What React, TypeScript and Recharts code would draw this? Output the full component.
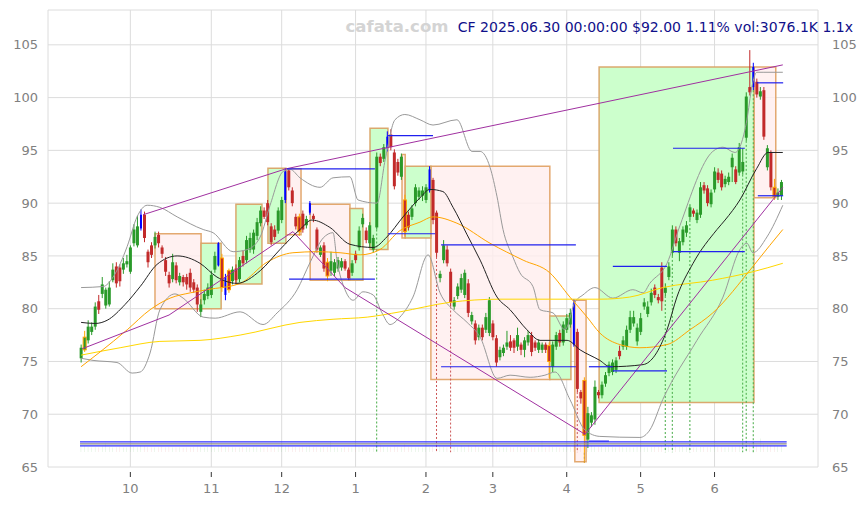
import React from "react";
import {
  ComposedChart,
  Bar,
  Line,
  XAxis,
  YAxis,
  CartesianGrid,
  ReferenceArea,
  ReferenceLine,
  Cell,
} from "recharts";

// daily candles, Sep 11 2024 .. Jun 30 2025 (index = trading day)
const opens = [
  75.3, 76.1, 77.0, 77.8, 78.3, 80.7, 81.4, 80.3, 80.4, 82.7, 84.0, 83.9, 83.7, 84.2, 83.5, 86.2, 86.0, 87.6, 88.9, 85.4,
  86.0, 86.0, 87.0, 85.8, 84.6, 83.2, 82.8, 84.1, 82.5, 83.0, 83.0, 83.4, 82.5, 82.0, 79.7, 80.8, 81.2, 81.3, 83.7, 84.1,
  84.8, 81.3, 83.6, 82.6, 83.8, 82.8, 85.0, 84.6, 85.6, 85.6, 86.9, 88.1, 89.3, 90.0, 87.8, 87.5, 87.4, 88.4, 90.3, 93.1,
  91.2, 88.7, 88.7, 89.0, 87.9, 89.1, 88.8, 87.5, 85.1, 86.0, 84.4, 83.6, 83.4, 83.8, 83.9, 84.5, 83.7, 83.4, 85.2, 85.8,
  88.0, 87.4, 86.2, 85.6, 87.7, 94.4, 94.2, 95.2, 96.5, 94.8, 93.9, 92.5, 90.3, 88.9, 88.7, 90.0, 90.6, 90.7, 90.3, 91.2,
  92.2, 89.1, 82.9, 84.6, 85.6, 83.5, 80.2, 81.2, 81.8, 81.3, 82.4, 78.8, 78.6, 77.3, 78.2, 78.0, 77.7, 78.6, 77.2, 75.4,
  75.8, 76.4, 76.9, 77.0, 76.4, 76.6, 76.1, 76.8, 77.5, 76.8, 76.1, 76.1, 76.6, 76.5, 74.5, 76.4, 77.7, 76.8, 78.0, 78.5,
  80.5, 77.8, 72.1, 73.2, 67.6, 69.2, 69.5, 72.1, 71.8, 72.9, 73.9, 74.0, 74.2, 76.0, 76.4, 76.4, 78.0, 78.6, 76.9, 77.8,
  80.2, 79.5, 80.6, 82.0, 81.1, 83.9, 81.5, 83.0, 85.3, 87.5, 85.3, 86.3, 87.2, 88.7, 89.3, 88.4, 88.9, 91.7, 91.4, 89.9,
  91.3, 92.9, 92.8, 91.8, 92.0, 93.4, 93.2, 92.9, 93.0, 96.2, 101.0, 101.0, 101.5, 100.1, 100.7, 93.4, 94.8, 91.5, 90.6, 90.7,
];
const highs = [
  76.6, 77.9, 78.9, 78.7, 80.6, 81.3, 83.0, 82.0, 82.6, 84.3, 84.4, 84.2, 84.8, 85.1, 86.0, 88.0, 88.8, 89.4, 89.2, 85.6,
  86.3, 87.3, 87.3, 86.0, 84.9, 83.5, 85.2, 84.4, 83.4, 83.2, 83.3, 83.8, 82.8, 82.3, 80.9, 81.8, 82.4, 83.6, 85.4, 86.3,
  85.2, 83.3, 83.8, 84.0, 84.2, 84.9, 85.5, 86.9, 87.2, 87.5, 88.6, 89.7, 89.6, 90.3, 88.1, 87.9, 89.6, 90.6, 93.3, 93.3,
  91.5, 89.0, 89.0, 89.3, 88.8, 90.2, 89.0, 87.7, 86.0, 86.3, 84.8, 85.4, 84.7, 84.9, 84.8, 84.7, 83.9, 84.6, 85.5, 87.8,
  89.0, 87.7, 88.2, 87.0, 94.8, 94.7, 95.6, 96.8, 97.0, 95.1, 94.2, 94.7, 90.8, 89.2, 89.8, 91.8, 91.5, 91.6, 91.8, 93.5,
  92.4, 89.3, 83.6, 86.5, 86.0, 83.8, 81.1, 82.4, 83.3, 83.7, 82.8, 79.7, 78.9, 78.5, 78.5, 79.6, 81.1, 78.9, 77.5, 76.4,
  76.6, 77.9, 77.5, 77.2, 78.2, 76.8, 77.3, 77.9, 77.8, 77.0, 77.1, 76.8, 76.8, 76.8, 76.9, 77.8, 78.0, 78.8, 79.5, 80.0,
  80.9, 78.1, 72.3, 73.5, 70.7, 70.2, 73.2, 72.3, 73.1, 74.0, 75.0, 75.2, 75.4, 76.5, 77.4, 78.4, 79.8, 79.8, 78.6, 79.6,
  81.0, 80.7, 81.9, 82.3, 81.4, 84.4, 82.4, 84.4, 87.9, 87.8, 86.7, 87.8, 88.3, 89.9, 89.5, 89.4, 92.0, 92.0, 91.7, 91.3,
  93.4, 93.3, 93.1, 92.6, 92.9, 94.7, 93.5, 95.7, 95.2, 100.5, 104.5, 103.3, 101.8, 101.0, 101.0, 95.5, 95.0, 92.3, 91.4, 92.2,
];
const lows = [
  74.9, 75.9, 76.7, 77.5, 78.0, 79.5, 81.0, 80.0, 80.2, 82.5, 82.0, 82.1, 83.3, 83.9, 83.3, 85.9, 85.8, 87.4, 86.3, 83.9,
  84.8, 85.7, 85.8, 84.8, 83.1, 82.0, 82.5, 82.4, 82.2, 82.1, 81.8, 81.6, 81.5, 79.7, 79.2, 80.4, 80.9, 81.0, 83.4, 84.0,
  81.6, 80.8, 81.5, 82.3, 82.4, 82.5, 84.0, 84.3, 85.3, 85.2, 86.5, 87.8, 88.5, 87.9, 86.0, 86.5, 87.1, 88.1, 90.0, 91.2,
  89.7, 87.5, 86.9, 87.2, 87.6, 88.9, 88.2, 85.3, 84.9, 83.5, 82.6, 83.1, 83.1, 83.5, 83.6, 83.6, 82.7, 83.1, 84.3, 85.5,
  87.7, 86.2, 85.8, 85.3, 87.5, 93.5, 93.9, 94.9, 95.0, 91.3, 92.6, 92.2, 86.9, 87.4, 88.4, 89.7, 90.3, 90.2, 90.0, 91.0,
  88.0, 84.9, 82.5, 84.3, 84.0, 80.2, 79.9, 80.9, 81.5, 81.0, 79.2, 78.5, 76.6, 77.0, 77.0, 77.7, 77.4, 77.0, 74.5, 75.1,
  75.5, 76.1, 76.0, 75.8, 76.0, 75.6, 75.4, 76.5, 75.5, 76.0, 75.8, 75.8, 75.8, 73.4, 74.0, 76.1, 76.4, 76.5, 77.7, 78.2,
  76.4, 72.1, 71.0, 65.4, 66.8, 68.8, 69.0, 71.5, 71.5, 72.6, 73.6, 73.7, 73.9, 75.2, 76.1, 76.1, 77.7, 78.3, 76.5, 77.5,
  79.9, 79.2, 80.3, 81.0, 80.5, 79.8, 81.2, 82.7, 85.0, 85.9, 84.5, 86.0, 86.8, 88.4, 88.7, 88.1, 88.6, 90.9, 89.7, 89.6,
  91.0, 91.9, 91.2, 91.5, 91.7, 92.0, 91.8, 92.6, 92.7, 95.9, 100.2, 100.7, 100.0, 99.8, 96.0, 93.1, 91.2, 90.3, 90.3, 90.3,
];
const closes = [
  76.3, 77.3, 78.3, 78.3, 80.2, 79.9, 82.3, 81.8, 82.0, 83.7, 82.4, 82.6, 84.3, 84.5, 85.8, 87.5, 87.8, 88.9, 86.7, 84.4,
  85.1, 86.8, 86.2, 85.2, 83.5, 82.4, 84.4, 82.7, 83.1, 82.5, 82.3, 82.0, 81.8, 80.4, 80.4, 81.4, 82.0, 83.2, 85.0, 86.2,
  82.0, 83.0, 81.8, 83.7, 82.7, 84.6, 84.3, 86.5, 86.7, 87.2, 88.2, 89.3, 88.7, 88.2, 86.3, 86.8, 89.3, 90.3, 93.0, 91.5,
  90.0, 87.8, 87.3, 87.5, 88.5, 90.0, 88.5, 85.6, 85.8, 83.8, 83.1, 84.5, 84.4, 84.6, 84.5, 83.8, 82.9, 84.3, 84.6, 87.4,
  88.6, 86.5, 87.9, 86.7, 94.4, 93.8, 95.3, 96.3, 95.3, 91.6, 92.9, 94.4, 87.3, 87.7, 89.5, 91.5, 91.2, 91.2, 91.5, 93.2,
  88.4, 85.3, 83.3, 86.0, 84.3, 80.6, 80.8, 82.1, 82.9, 83.4, 79.6, 79.4, 77.0, 78.2, 77.3, 79.2, 80.8, 77.3, 74.9, 76.1,
  76.3, 76.8, 76.3, 76.3, 77.5, 76.1, 77.0, 77.5, 75.9, 76.3, 76.8, 76.6, 76.1, 75.0, 76.6, 77.5, 76.8, 78.5, 79.1, 79.6,
  76.6, 72.4, 71.5, 68.0, 70.1, 69.9, 72.6, 71.8, 72.8, 73.7, 74.7, 74.9, 75.1, 75.5, 77.0, 78.0, 79.2, 79.2, 78.2, 79.1,
  80.6, 80.2, 81.5, 81.3, 80.8, 80.7, 82.0, 84.0, 87.5, 86.2, 86.4, 87.5, 87.9, 89.6, 89.0, 89.1, 91.5, 91.2, 90.0, 91.0,
  93.0, 92.2, 91.5, 92.3, 92.5, 94.3, 92.0, 95.3, 93.9, 100.1, 100.5, 102.9, 100.3, 100.6, 96.3, 95.2, 91.5, 90.6, 91.0, 92.0,
];
// volume, thousands of shares
const volumes = [
  2600, 3100, 2500, 2200, 2400, 2300, 2700, 4600, 2500, 2300, 2400, 2600, 2200, 2300, 2500, 2800, 2400, 3200, 2900, 2500,
  2300, 2200, 2400, 2600, 2300, 2500, 2200, 2300, 2400, 2100, 2300, 2200, 2500, 2700, 2400, 2300, 2600, 2400, 2300, 3600,
  3100, 2700, 2600, 2400, 2300, 2200, 2500, 2400, 2300, 2600, 2400, 2300, 2200, 2500, 2400, 2300, 2700, 2600, 2900, 3100,
  2600, 2500, 2400, 2800, 2600, 3000, 2500, 2400, 2300, 2600, 2500, 5400, 2200, 2300, 2000, 2400, 2300, 2200, 2300, 2600,
  2400, 2500, 2300, 2200, 3600, 3800, 2600, 2500, 2400, 2700, 2500, 2400, 4000, 2600, 2400, 2300, 2200, 2300, 2400, 2500,
  2600, 5000, 3200, 2600, 2400, 5000, 2600, 2400, 3300, 2500, 3400, 2500, 3000, 2400, 2300, 2500, 2300, 2600, 3100, 2400,
  2300, 2200, 2400, 2300, 2500, 2200, 2300, 2100, 2400, 2300, 2400, 5800, 2300, 3200, 2500, 2400, 2300, 2200, 2500, 2400,
  4000, 4800, 3900, 5200, 4500, 3100, 2800, 2600, 2500, 2400, 2600, 2500, 2300, 2600, 2400, 2300, 2400, 2300, 2500, 2400,
  2300, 2200, 2400, 2600, 2500, 3300, 2500, 2600, 3400, 2800, 2600, 2500, 2400, 2600, 2300, 2200, 2600, 2500, 2400, 2300,
  2500, 2600, 2400, 2300, 2400, 2800, 2600, 3000, 2700, 3600, 4100, 4500, 3600, 6700, 3900, 3400, 3200, 3000, 2900, 3076,
];
const blueBars = [17, 39, 41, 58, 65, 87, 99, 140, 191];
const orangeBars = [1, 40, 42, 62, 70, 92, 133, 143, 197];

const monthTicks = [14, 37, 57, 78, 98, 117, 138, 159, 180];
const monthLabels = ["10", "11", "12", "1", "2", "3", "4", "5", "6"];
const priceTicks = [65, 70, 75, 80, 85, 90, 95, 100, 105];

// indicator curves, [index, price]
const maShort = [
  [0, 78.7], [4, 78.6], [7.4, 78.9], [12.5, 80.4], [16.8, 82.1], [21.6, 84.2], [27.3, 85.0], [33.8, 84.3],
  [38.6, 83.0], [44.3, 82.4], [50.9, 83.6], [56.5, 85.6], [62.2, 87.5], [65.6, 88.4], [70.7, 87.7], [76.4, 86.1],
  [83.0, 85.8], [86.9, 86.8], [91.5, 88.7], [96.3, 90.5], [99.1, 91.3], [102.8, 91.1], [105.7, 89.6], [109.7, 87.0],
  [113.4, 84.6], [118.2, 81.1], [121.9, 79.9], [126.7, 78.0], [130.4, 77.0], [138.1, 77.0], [141.8, 76.1], [147.4, 75.1],
  [150.3, 74.5], [159.7, 74.7], [166.5, 78.0], [169.3, 81.1], [173.9, 84.3], [180.7, 87.5], [183.0, 88.4], [187.2, 90.3],
  [192.0, 93.3], [195.2, 94.8], [199.4, 94.8],
];
const maMid = [
  [0, 74.5], [5.4, 75.9], [13.1, 78.0], [19.6, 79.9], [25.3, 81.0], [31.0, 81.5], [35.8, 81.8], [45.2, 82.4],
  [52.8, 84.4], [60.2, 85.3], [67.0, 85.4], [73.6, 85.3], [79.3, 85.1], [84.9, 85.6], [90.6, 87.4], [96.3, 88.2],
  [100.0, 88.7], [106.8, 88.1], [116.2, 86.2], [125.6, 84.6], [133.2, 83.4], [138.9, 81.1], [143.8, 79.2], [147.4, 77.7],
  [153.1, 76.6], [158.8, 76.3], [166.5, 76.6], [173.0, 78.0], [179.5, 79.6], [190.9, 84.0], [195.7, 86.0], [199.4, 87.5],
];
const maLong = [
  [0, 75.6], [11.1, 76.3], [22.4, 76.9], [33.8, 77.0], [45.2, 77.5], [62.2, 78.7], [71.6, 79.0], [81.3, 79.2],
  [90.6, 79.7], [104.8, 80.6], [119.0, 80.9], [133.2, 80.9], [147.4, 80.9], [155.9, 81.1], [165.3, 82.0], [179.5, 82.7],
  [190.9, 83.5], [199.4, 84.3],
];
const bandUpper = [
  [0, 82.0], [6.3, 82.1], [9.1, 83.0], [13.1, 85.9], [15.9, 88.7], [18.8, 89.8], [22.4, 89.6], [27.3, 88.7],
  [34.7, 87.5], [37.5, 87.2], [43.2, 85.4], [47.2, 85.6], [50.9, 86.8], [53.7, 89.8], [57.4, 93.0], [59.4, 93.2],
  [62.2, 92.4], [67.9, 91.5], [71.6, 92.4], [76.4, 92.5], [78.7, 90.3], [84.1, 90.0], [86.4, 94.1], [89.2, 97.9],
  [92.0, 98.4], [96.3, 97.9], [100.0, 97.4], [106.8, 97.9], [111.1, 94.9], [113.4, 94.9], [116.2, 93.4], [118.2, 90.6],
  [119.9, 87.5], [122.7, 84.9], [124.7, 83.4], [128.4, 82.1], [130.4, 79.9], [134.1, 79.6], [137.5, 78.0], [140.3, 80.6],
  [142.6, 81.3], [146.0, 82.0], [151.1, 81.0], [156.8, 81.8], [159.7, 81.5], [161.6, 82.4], [166.5, 84.3], [170.2, 87.9],
  [179.5, 94.9], [182.4, 95.3], [185.8, 94.8], [189.2, 97.9], [190.6, 101.0], [192.0, 102.4], [193.8, 102.4], [199.4, 102.4],
];
const bandLower = [
  [0, 75.3], [3.4, 75.1], [10.2, 74.9], [14.5, 73.9], [16.8, 74.0], [19.6, 75.8], [22.4, 79.9], [26.7, 81.4],
  [29.0, 81.0], [34.7, 79.2], [38.1, 79.1], [45.2, 79.7], [51.7, 78.5], [55.7, 79.6], [61.4, 81.8], [65.1, 84.4],
  [68.8, 86.7], [71.6, 87.2], [72.7, 84.6], [75.0, 81.8], [77.3, 80.8], [80.1, 81.6], [83.0, 81.3], [85.5, 79.6],
  [87.8, 78.5], [90.6, 79.2], [94.3, 81.1], [98.6, 85.1], [102.0, 81.5], [105.7, 79.9], [109.7, 78.7], [113.4, 77.3],
  [118.2, 73.4], [121.9, 73.7], [127.6, 73.5], [131.8, 73.7], [134.7, 74.0], [138.9, 71.4], [143.2, 68.5], [147.4, 67.9],
  [158.8, 67.8], [161.6, 68.5], [165.3, 71.4], [175.0, 77.0], [182.4, 81.1], [187.2, 85.6], [189.2, 86.2], [190.9, 85.3],
  [194.9, 86.8], [199.4, 89.8],
];
const trendUpper = [[17.6, 88.9], [58.2, 93.25], [199.4, 103.1]];
const trendZigzag = [[0.3, 76.2], [25.0, 79.4], [60.2, 87.3], [75.0, 82.0], [143.2, 68.1], [199.4, 91.5]];

// boxes: [fromIndex, toIndex, low, high]
const greenBoxes = [
  [34.1, 39.8, 80.0, 86.2], [44.0, 51.4, 82.35, 89.9], [53.1, 58.2, 86.2, 93.3], [76.4, 80.1, 82.7, 89.5],
  [82.1, 87.2, 85.6, 97.1], [92.1, 99.4, 86.7, 93.5], [133.2, 139.2, 73.3, 79.3], [147.2, 191.2, 71.1, 102.9],
];
const pinkBoxes = [
  [21.0, 34.1, 80.0, 87.1], [58.2, 62.5, 87.0, 93.25], [65.1, 76.4, 82.7, 89.9], [91.2, 92.1, 86.7, 94.6],
  [99.4, 133.2, 73.3, 93.5], [140.3, 143.5, 65.5, 80.8], [191.2, 197.4, 90.5, 102.9],
];
// levels: [fromIndex, toIndex, price]
const levels = [
  [58.5, 83.5, 93.25], [59.1, 83.5, 82.8], [87.2, 100.0, 96.4], [87.2, 100.6, 87.1], [102.3, 140.6, 86.05],
  [102.3, 140.6, 74.5], [144.3, 151.1, 74.5], [151.1, 166.5, 74.1], [151.1, 166.5, 84.0], [168.2, 188.6, 85.4],
  [168.2, 188.6, 95.2], [192.0, 199.5, 101.4], [192.3, 199.5, 90.7], [144.3, 150.0, 67.45],
];
const baseBlue = [67.38, 67.0];
const baseGray = [67.19];
const greenMarks = [84, 166, 168, 173, 188, 189, 191];
const redMarks = [101, 105, 141];
const orangeMarks = [143];

const GREEN = "#2a9a2a";
const RED = "#c22a2a";
const BLUE = "#0000ff";
const ORANGE = "#ffa500";
const AXIS_TEXT = "#808080";

const rows = opens.map((o, i) => ({
  i,
  open: o,
  high: highs[i],
  low: lows[i],
  close: closes[i],
  range: [lows[i], highs[i]],
  vol: volumes[i],
}));

const pts = (arr: number[][]) => arr.map(([i, v]) => ({ i, v }));

function Candle(props: any) {
  const { x, y, width, height, payload } = props;
  if (!payload || height == null || isNaN(y)) return null;
  const { i, open, close, high, low } = payload;
  const cx = x + width / 2;
  const span = high - low || 1;
  const py = (v: number) => y + ((high - v) / span) * height;
  const isBlue = blueBars.includes(i);
  const isOrange = orangeBars.includes(i);
  const color = isBlue ? BLUE : close >= open ? GREEN : RED;
  const top = py(Math.max(open, close));
  const bot = py(Math.min(open, close));
  const bw = isBlue ? 2 : 3;
  return (
    <g>
      <line x1={cx} x2={cx} y1={y} y2={y + height} stroke={isOrange ? ORANGE : color} strokeWidth={1} />
      <rect
        x={cx - bw / 2}
        y={top}
        width={bw}
        height={Math.max(1, bot - top)}
        fill={color}
        stroke={isOrange ? ORANGE : "none"}
        strokeWidth={isOrange ? 1 : 0}
      />
    </g>
  );
}

function MonthTick(props: any) {
  const { x, y, payload } = props;
  const idx = monthTicks.indexOf(payload.value);
  return (
    <g>
      <line x1={x} x2={x} y1={y + 5} y2={y + 10} stroke="#333" />
      <text x={x} y={y + 26} textAnchor="middle" fill={AXIS_TEXT} fontSize={13}>
        {monthLabels[idx]}
      </text>
    </g>
  );
}

export default function App() {
  return (
    <div
      style={{
        position: "absolute",
        left: 0,
        top: 0,
        width: 867,
        height: 505,
        background: "#fff",
        fontFamily: "'DejaVu Sans', sans-serif",
      }}
    >
      <ComposedChart
        width={867}
        height={505}
        data={rows}
        margin={{ top: 10, right: 0, bottom: 0, left: 0 }}
        barGap={-3}
        style={{ fontFamily: "'DejaVu Sans', sans-serif" }}
      >
        <CartesianGrid stroke="#dcdcdc" />
        <XAxis
          dataKey="i"
          type="number"
          domain={[-9.4, 209.4]}
          ticks={monthTicks}
          allowDataOverflow
          height={38}
          tickSize={0}
          tickMargin={0}
          axisLine={false}
          tickLine={false}
          tick={<MonthTick />}
        />
        <YAxis
          type="number"
          domain={[65, 108.3]}
          ticks={priceTicks}
          allowDataOverflow
          width={48}
          axisLine={false}
          tickLine={false}
          tickMargin={4}
          tick={{ fill: AXIS_TEXT, fontSize: 13 }}
        />
        <YAxis
          yAxisId="r"
          orientation="right"
          type="number"
          domain={[65, 108.3]}
          ticks={priceTicks}
          allowDataOverflow
          width={49}
          axisLine={false}
          tickLine={false}
          tickMargin={8}
          tick={{ fill: AXIS_TEXT, fontSize: 13 }}
        />
        <YAxis yAxisId="v" hide type="number" domain={[-7500, 221000]} allowDataOverflow />

        {/* signal boxes */}
        {pinkBoxes.map(([a, b, lo, hi], k) => (
          <ReferenceArea
            key={`p${k}`}
            x1={a}
            x2={b}
            y1={lo}
            y2={hi}
            fill="#ffeeee"
            fillOpacity={0.8}
            stroke="#e0a060"
            strokeOpacity={0.9}
            strokeWidth={1.5}
          />
        ))}
        {greenBoxes.map(([a, b, lo, hi], k) => (
          <ReferenceArea
            key={`g${k}`}
            x1={a}
            x2={b}
            y1={lo}
            y2={hi}
            fill="#ccffcc"
            fillOpacity={1}
            stroke="#d8a060"
            strokeOpacity={0.9}
            strokeWidth={1.5}
          />
        ))}

        {/* volume */}
        <Bar dataKey="vol" yAxisId="v" barSize={3} isAnimationActive={false}>
          {rows.map((r, k) => (
            <Cell key={`v${k}`} fill={r.close >= r.open ? "#8fc98f" : "#e39a9a"} />
          ))}
        </Bar>

        {/* vertical signal markers */}
        {greenMarks.map((i) => (
          <ReferenceLine
            key={`gm${i}`}
            segment={[{ x: i, y: lows[i] }, { x: i, y: 66.4 }]}
            stroke="#44aa44"
            strokeDasharray="2 2"
          />
        ))}
        {redMarks.map((i) => (
          <ReferenceLine
            key={`rm${i}`}
            segment={[{ x: i, y: lows[i] }, { x: i, y: 66.4 }]}
            stroke="#cc5555"
            strokeDasharray="2 2"
          />
        ))}
        {orangeMarks.map((i) => (
          <ReferenceLine
            key={`om${i}`}
            segment={[{ x: i, y: lows[i] }, { x: i, y: 66.4 }]}
            stroke="#cc9944"
            strokeDasharray="2 2"
          />
        ))}

        {/* candles */}
        <Bar dataKey="range" barSize={3} isAnimationActive={false} shape={(p: any) => <Candle {...p} />} />

        {/* moving averages and bands */}
        <Line data={pts(bandUpper)} dataKey="v" type="monotone" stroke="#999" strokeWidth={1} dot={false} isAnimationActive={false} />
        <Line data={pts(bandLower)} dataKey="v" type="monotone" stroke="#999" strokeWidth={1} dot={false} isAnimationActive={false} />
        <Line data={pts(maLong)} dataKey="v" type="monotone" stroke="#ffd700" strokeWidth={1} dot={false} isAnimationActive={false} />
        <Line data={pts(maMid)} dataKey="v" type="monotone" stroke="#ffa500" strokeWidth={1} dot={false} isAnimationActive={false} />
        <Line data={pts(maShort)} dataKey="v" type="monotone" stroke="#222" strokeWidth={1} dot={false} isAnimationActive={false} />

        {/* trend lines */}
        <Line data={pts(trendUpper)} dataKey="v" type="linear" stroke="#a030a0" strokeWidth={1} dot={false} isAnimationActive={false} />
        <Line data={pts(trendZigzag)} dataKey="v" type="linear" stroke="#a030a0" strokeWidth={1} dot={false} isAnimationActive={false} />

        {/* support / resistance levels */}
        {levels.map(([a, b, v], k) => (
          <ReferenceLine key={`l${k}`} segment={[{ x: a, y: v }, { x: b, y: v }]} stroke="#2020ee" strokeWidth={1.2} />
        ))}
        {baseBlue.map((v) => (
          <ReferenceLine key={`bb${v}`} segment={[{ x: -0.3, y: v }, { x: 200.5, y: v }]} stroke="#3030ff" strokeWidth={1.2} />
        ))}
        {baseGray.map((v) => (
          <ReferenceLine key={`bg${v}`} segment={[{ x: -0.3, y: v }, { x: 200.5, y: v }]} stroke="#888" strokeWidth={1.2} />
        ))}
      </ComposedChart>

      <svg
        width={867}
        height={505}
        style={{ position: "absolute", left: 0, top: 0, pointerEvents: "none" }}
      >
        <text x={397} y={32} textAnchor="middle" fontSize={16.5} fontWeight="bold" fill="#d4d4d4">
          cafata.com
        </text>
        <text x={853} y={32} textAnchor="end" fontSize={14} fill="#10108a">
          CF 2025.06.30 00:00:00 $92.00 1.11% vol:3076.1K 1.1x
        </text>
      </svg>
    </div>
  );
}
